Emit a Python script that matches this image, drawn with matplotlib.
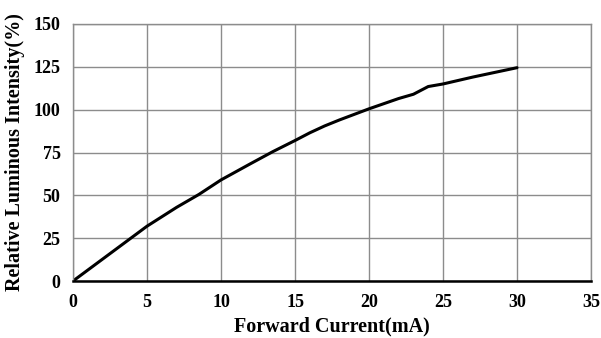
import matplotlib
matplotlib.use("Agg")
import matplotlib.pyplot as plt

# Relative luminous intensity vs forward current
current_ma = [0, 2.5, 5, 7, 8.5, 10, 12, 13.5, 15, 16, 17, 18, 20, 22, 23, 24, 25, 27, 30]
intensity_pct = [0, 16, 32, 43, 50.5, 59, 68.5, 75.5, 82, 86.5, 90.5, 94, 100.5, 106.5, 109, 113.5, 115, 119, 124.5]

x_ticks = [0, 5, 10, 15, 20, 25, 30, 35]
y_ticks = [0, 25, 50, 75, 100, 125, 150]

plt.rcParams["font.family"] = ["Liberation Serif", "DejaVu Serif"]
plt.rcParams["font.weight"] = "bold"

fig = plt.figure(figsize=(6.01, 3.38), dpi=100)
ax = fig.add_axes([0.1215, 0.1686, 0.8619, 0.7604])

grid_c = "#8c8c8c"
ax.plot(current_ma, intensity_pct, color="black", lw=2.2, solid_capstyle="round")

ax.set_xlim(0, 35)
ax.set_ylim(0, 150)
ax.set_xticks(x_ticks)
ax.set_yticks(y_ticks)
ax.grid(True, color=grid_c, lw=1.0)
ax.set_axisbelow(True)
ax.tick_params(length=0, labelsize=13, pad=9)
for lbl in ax.get_xticklabels() + ax.get_yticklabels():
    lbl.set_fontweight("bold")

for side in ("top", "right", "left"):
    ax.spines[side].set_color(grid_c)
    ax.spines[side].set_linewidth(1.0)
ax.spines["bottom"].set_color("black")
ax.spines["bottom"].set_linewidth(1.8)

ax.set_xlabel("Forward Current(mA)", fontsize=14.5, fontweight="bold", labelpad=4)
ax.set_ylabel("Relative Luminous Intensity(%)", fontsize=14.5, fontweight="bold", labelpad=6)

fig.savefig("out.png", dpi=100)
